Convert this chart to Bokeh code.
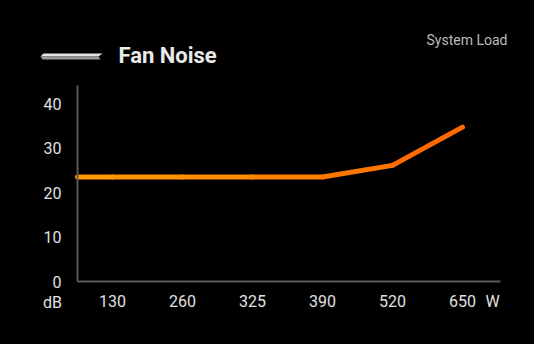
from bokeh.plotting import figure
from bokeh.embed import file_html
from bokeh.resources import INLINE
from bokeh.models import Label, FixedTicker, Range1d, PolyAnnotation

# ---- data ----
loads = ["130", "260", "325", "390", "520", "650"]
noise_db = [23.5, 23.5, 23.5, 23.5, 26.1, 34.7]
start_db = 23.5  # line begins at the y axis
y_ticks = [0, 10, 20, 30, 40]
title = "Fan Noise"
subtitle = "System Load"
y_unit = "dB"
x_unit = "W"

xs = [-0.5] + list(range(len(loads)))
ys = [start_db] + noise_db
seg_colors = ["#FF9A00", "#FF9400", "#FF8C00", "#FF8300", "#FF7600", "#FF6A00"]

W, H = 534, 344
# page pixel -> frame-relative screen coords (frame covers whole canvas)
def sx(img_x):
    return img_x - 8
def sy(img_y):
    return H + 8 - img_y

PX_X = 70.0   # pixels per category step
PX_Y = 4.45   # pixels per dB
X0, Y0 = 120, 289  # page pixel of first category / 0 dB

p = figure(width=W, height=H, output_backend="svg", toolbar_location=None,
           x_range=Range1d((8 - X0) / PX_X, (8 + W - X0) / PX_X),
           y_range=Range1d((Y0 - 8 - H) / PX_Y, (Y0 - 8) / PX_Y),
           min_border=0)
p.background_fill_color = "#000000"
p.border_fill_color = "#000000"
p.outline_line_color = None
p.styles = {"background-color": "#000000"}
p.xgrid.visible = False
p.ygrid.visible = False

for i in range(len(xs) - 1):
    p.line(xs[i:i + 2], ys[i:i + 2], line_width=5, line_color=seg_colors[i], line_cap="round")

ax = p.xaxis[0]
ax.fixed_location = 0
ax.bounds = (-0.5, 5.54)
ax.ticker = FixedTicker(ticks=list(range(len(loads))) + [5.43])
ax.major_label_overrides = {**{i: l for i, l in enumerate(loads)}, 5.43: x_unit}
ay = p.yaxis[0]
ay.fixed_location = -0.5
ay.bounds = (0, 44)
ay.ticker = FixedTicker(ticks=y_ticks)
for a in (ax, ay):
    a.axis_line_color = "#5A5A5A"
    a.axis_line_width = 2
    a.major_tick_line_color = None
    a.minor_tick_line_color = None
    a.major_label_text_color = "#E0E0E0"
    a.major_label_text_font = "Roboto"
    a.major_label_text_font_size = "16px"
ax.major_label_standoff = 4
ay.major_label_standoff = 10

# icon (slab)
p.add_layout(PolyAnnotation(xs=[sx(51), sx(110), sx(106), sx(48)], ys=[sy(61), sy(61), sy(64), sy(64)],
                            xs_units="screen", ys_units="screen",
                            fill_color="#E6E6E6", fill_alpha=1, line_color=None))
p.add_layout(PolyAnnotation(xs=[sx(48), sx(106), sx(108), sx(50)], ys=[sy(64), sy(64), sy(67), sy(67)],
                            xs_units="screen", ys_units="screen",
                            fill_color="#9A9A9A", fill_alpha=1, line_color=None))

p.add_layout(Label(x=sx(60), y=sy(310), x_units="screen", y_units="screen", text=y_unit,
                   text_color="#E0E0E0", text_font="Roboto", text_font_size="16px",
                   text_align="center", text_baseline="middle"))
p.add_layout(Label(x=sx(126), y=sy(63), x_units="screen", y_units="screen", text=title,
                   text_color="#EAEAEA", text_font="Roboto", text_font_style="bold",
                   text_font_size="22px", text_baseline="middle"))
p.add_layout(Label(x=sx(515), y=sy(47), x_units="screen", y_units="screen", text=subtitle,
                   text_color="#BBBBBB", text_font="Roboto", text_font_size="14px",
                   text_align="right", text_baseline="middle"))

out = open("out.html", "w")
out.write(file_html(p, INLINE))
out.close()
